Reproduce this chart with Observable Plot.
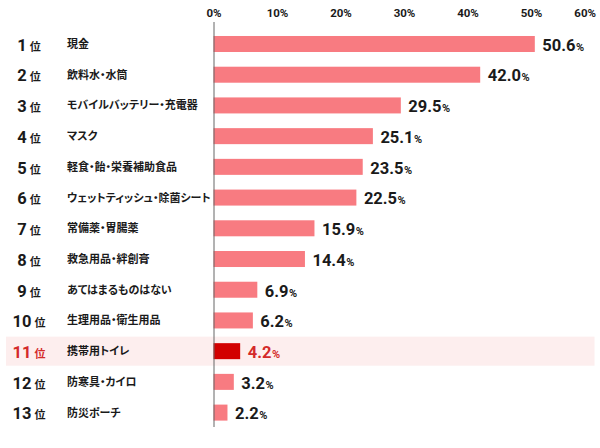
<!DOCTYPE html>
<html>
<head>
<meta charset="utf-8">
<script src="https://cdn.jsdelivr.net/npm/d3@7"></script>
<script src="https://cdn.jsdelivr.net/npm/@observablehq/plot@0.6"></script>
<style>
  html, body { margin: 0; padding: 0; background: #fff; }
  svg text { font-feature-settings: "palt"; }
</style>
</head>
<body>
<div id="chart"></div>
<script>
const ranks = [1, 2, 3, 4, 5, 6, 7, 8, 9, 10, 11, 12, 13];
const items = ["現金", "飲料水・水筒", "モバイルバッテリー・充電器", "マスク", "軽食・飴・栄養補助食品", "ウェットティッシュ・除菌シート", "常備薬・胃腸薬", "救急用品・絆創膏", "あてはまるものはない", "生理用品・衛生用品", "携帯用トイレ", "防寒具・カイロ", "防災ポーチ"];
const values = [50.6, 42.0, 29.5, 25.1, 23.5, 22.5, 15.9, 14.4, 6.9, 6.2, 4.2, 3.2, 2.2];
const highlight = "携帯用トイレ";
const xTicks = [0, 10, 20, 30, 40, 50, 60];

const data = items.map((item, i) => ({rank: ranks[i], item, value: values[i]}));

const barColor = "#f87b81";
const hiBar = "#d20000";
const hiText = "#d42a2a";
const dark = "#1a1a1a";
const numFont = "Roboto, 'Liberation Sans', sans-serif";
const jpFont = "'Noto Sans CJK JP', sans-serif";
const isHi = d => d.item === highlight;

const mL = 213.5;
const chart = Plot.plot({
  width: 600,
  height: 448,
  marginLeft: mL,
  marginRight: 5.5,
  marginTop: 22,
  marginBottom: 21,
  style: {fontFamily: numFont, background: "#fff"},
  x: {domain: [xTicks[0], xTicks[xTicks.length - 1]], axis: null, label: null},
  y: {domain: items, paddingInner: 0.479, paddingOuter: 0.332, align: 0.686, round: false, axis: null, label: null},
  marks: [
    Plot.cell([highlight], {y: d => d, fill: "#fdeeee", insetTop: -6.5, insetBottom: -6.5, insetLeft: -(mL - 6), insetRight: 0}),
    Plot.axisX({anchor: "top", label: null, ticks: xTicks.slice(0, -1), tickSize: 0, tickPadding: 6, tickFormat: d => d + "%", fontSize: 11.5, fontWeight: "bold", fill: dark, fontFamily: numFont}),
    Plot.axisX({anchor: "top", label: null, ticks: xTicks.slice(-1), tickSize: 0, tickPadding: 6, tickFormat: d => d + "%", fontSize: 11.5, fontWeight: "bold", fill: dark, fontFamily: numFont, textAnchor: "end", dx: 1}),
    Plot.barX(data, {x: "value", y: "item", fill: d => isHi(d) ? hiBar : barColor}),
    Plot.ruleX([xTicks[0]], {stroke: "#666", strokeWidth: 1}),
    Plot.text(data, {x: "value", y: "item", text: d => d.value.toFixed(1) + "%", textAnchor: "start", dx: 7, dy: 1, fill: d => isHi(d) ? hiText : dark, fontSize: 16.5, fontWeight: "bold", fontFamily: numFont}),
    Plot.text(data, {y: "item", frameAnchor: "left", text: d => d.rank + "位", textAnchor: "middle", dx: -(mL - 28.5), dy: 1, fill: d => isHi(d) ? hiText : dark, fontSize: 16.5, fontWeight: "bold", fontFamily: numFont}),
    Plot.text(data, {y: "item", frameAnchor: "left", text: "item", textAnchor: "start", dx: -(mL - 66.5), fill: dark, fontSize: 11, fontWeight: "bold", fontFamily: jpFont})
  ]
});

// Split suffixes into smaller tspans (value "%" and rank "位")
d3.select(chart).selectAll("text").each(function() {
  if (this.querySelector("tspan")) return;
  const t = this.textContent;
  let main = null, suffix, size, dx, font;
  if (/^\d+\.\d%$/.test(t)) { main = t.slice(0, -1); suffix = "%"; size = 11; dx = 0.5; font = numFont; }
  else if (/^\d+位$/.test(t)) { main = t.slice(0, -1); suffix = "位"; size = 11; dx = 3; font = jpFont; }
  if (main === null) return;
  const sel = d3.select(this);
  sel.text(null);
  sel.append("tspan").text(main);
  sel.append("tspan").attr("font-size", size).attr("dx", dx).attr("font-family", font).text(suffix);
});

document.getElementById("chart").appendChild(chart);
</script>
</body>
</html>
